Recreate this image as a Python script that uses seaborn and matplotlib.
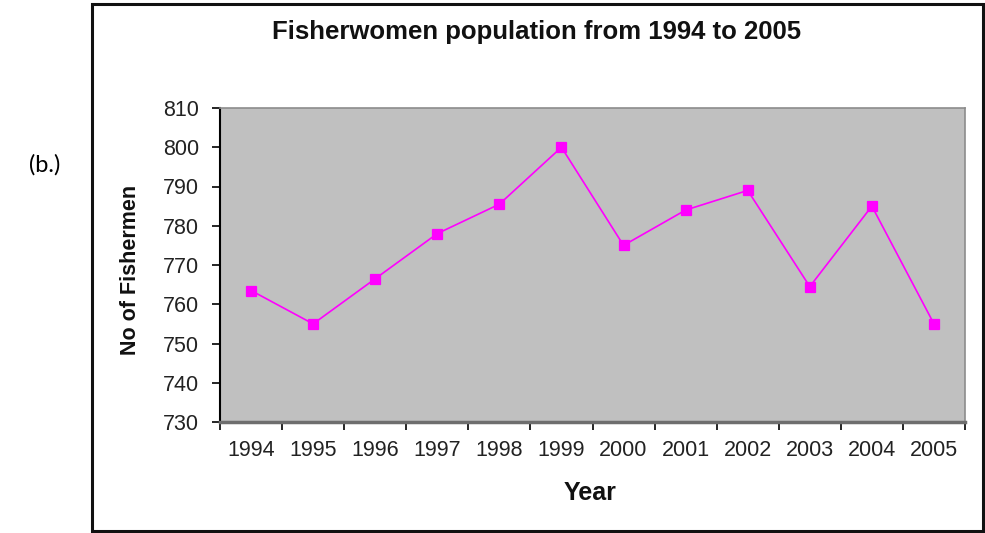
import numpy as np
import pandas as pd
import matplotlib
matplotlib.use("Agg")
import matplotlib.pyplot as plt
import seaborn as sns
from matplotlib.patches import Rectangle

sns.set_theme(style="white")
plt.rcParams["font.family"] = ["Liberation Sans", "DejaVu Sans"]

# data
years = ["1994", "1995", "1996", "1997", "1998", "1999",
         "2000", "2001", "2002", "2003", "2004", "2005"]
fishermen = [763.5, 755, 766.5, 778, 785.5, 800, 775, 784, 789, 764.5, 785, 755]
y_ticks = [730, 740, 750, 760, 770, 780, 790, 800, 810]

df = pd.DataFrame({"Year": years, "No of Fishermen": fishermen})

fig = plt.figure(figsize=(9.85, 5.33), dpi=100)
ax = fig.add_axes([220 / 985, 1 - 422 / 533, 745 / 985, 314 / 533])
ax.set_facecolor("#C0C0C0")

sns.pointplot(data=df, x="Year", y="No of Fishermen", color="#FF00FF",
              marker="s", markersize=7.5, linewidth=1.2, ax=ax)

ax.set_ylim(730, 810)
ax.set_yticks(y_ticks)
ax.set_xlim(-0.5, len(years) - 0.5)

# ticks: y ticks on the left, x ticks between categories
ax.tick_params(axis="y", which="major", direction="out", length=6, width=1.2,
               color="black", pad=9, labelsize=15.5, labelcolor="#222222", left=True)
ax.tick_params(axis="x", which="major", length=0, pad=13, labelsize=15.5,
               labelcolor="#222222", bottom=True)
ax.set_xticks(np.arange(-0.5, len(years), 1.0), minor=True)
ax.tick_params(axis="x", which="minor", direction="out", length=6, width=1.2,
               color="black", bottom=True)

for side in ["top", "right"]:
    ax.spines[side].set_color("#8C8C8C")
    ax.spines[side].set_linewidth(1.2)
ax.spines["left"].set_color("black")
ax.spines["left"].set_linewidth(1.5)
ax.spines["bottom"].set_color("#6E6E6E")
ax.spines["bottom"].set_linewidth(2.5)

ax.set_xlabel("Year", fontsize=18, fontweight="bold", color="#111111")
ax.set_ylabel("No of Fishermen", fontsize=15.5, fontweight="bold", color="#111111")
ax.xaxis.set_label_coords((590 - 220) / 745, (422 - 493) / 314)
ax.xaxis.label.set_verticalalignment("center")
ax.yaxis.set_label_coords((131 - 220) / 745, (422 - 270) / 314)
ax.yaxis.label.set_verticalalignment("center")

ax.set_title("Fisherwomen population from 1994 to 2005", fontsize=18.5,
             fontweight="bold", color="#111111",
             x=(537 - 220) / 745, y=(422 - 40) / 314, va="center")

# outer frame around the chart and the panel tag
fig.add_artist(Rectangle((92 / 985, 1 - 531 / 533), 891 / 985, 527 / 533,
                         transform=fig.transFigure, fill=False,
                         edgecolor="#111111", linewidth=2.2))
fig.text(45 / 985, 1 - 165 / 533, "(b.)", fontsize=17, ha="center", va="center",
         family=["Lato", "DejaVu Sans"], color="black")

fig.savefig("out.png", dpi=100, facecolor="white")
